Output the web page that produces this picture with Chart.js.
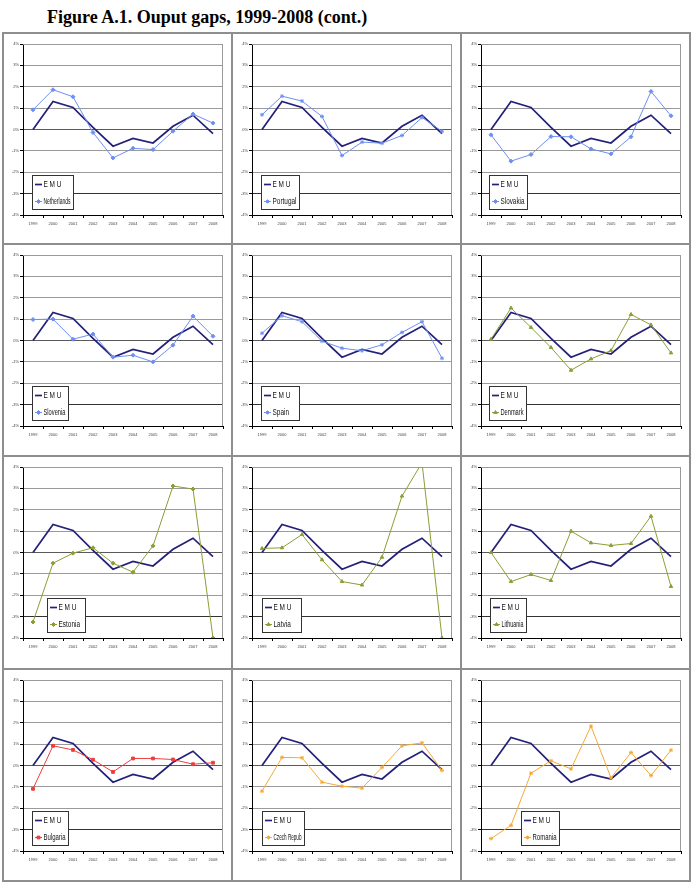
<!DOCTYPE html>
<html>
<head>
<meta charset="utf-8">
<script src="https://cdn.jsdelivr.net/npm/chart.js@4.4.0/dist/chart.umd.min.js"></script>
<style>
html, body { margin: 0; padding: 0; background: #fff; }
#page { position: relative; width: 691px; height: 895px; overflow: hidden; }
#title { position: absolute; left: 47px; top: 7px; line-height: 18px; white-space: nowrap;
         font: bold 18px "Liberation Serif", "Times New Roman", serif; color: #000; }
.cell { position: absolute; }
.line { position: absolute; background: #8e8e8e; z-index: 2; }
</style>
</head>
<body>
<div id="page">
  <div id="title">Figure A.1. Ouput gaps, 1999-2008 (cont.)</div>
</div>
<script>
// ===== Data (output gap, % of potential) =====
const YEARS = ['1999','2000','2001','2002','2003','2004','2005','2006','2007','2008'];
const EMU         = [0.00, 1.31, 1.03, 0.10, -0.78, -0.42, -0.63, 0.15, 0.67, -0.19];
const NETHERLANDS = [0.92, 1.86, 1.53, -0.14, -1.33, -0.88, -0.94, -0.08, 0.72, 0.30];
const PORTUGAL    = [0.69, 1.56, 1.33, 0.61, -1.22, -0.59, -0.64, -0.28, 0.56, -0.08];
const SLOVAKIA    = [-0.25, -1.48, -1.17, -0.33, -0.34, -0.91, -1.14, -0.34, 1.78, 0.64];
const SLOVENIA    = [0.98, 1.00, 0.06, 0.30, -0.78, -0.69, -1.00, -0.22, 1.14, 0.20];
const SPAIN       = [0.34, 1.16, 0.88, -0.03, -0.36, -0.48, -0.20, 0.38, 0.88, -0.83];
const DENMARK     = [0.06, 1.52, 0.61, -0.33, -1.39, -0.86, -0.47, 1.22, 0.73, -0.58];
const ESTONIA     = [-3.25, -0.50, -0.03, 0.22, -0.50, -0.92, 0.31, 3.11, 2.97, -4.00];
const LATVIA      = [0.19, 0.22, 0.84, -0.34, -1.36, -1.52, -0.22, 2.64, 4.20, -4.00];
const LITHUANIA   = [0.00, -1.36, -1.03, -1.31, 1.00, 0.45, 0.33, 0.42, 1.70, -1.59];
const BULGARIA    = [-1.09, 0.92, 0.73, 0.27, -0.30, 0.33, 0.33, 0.28, 0.06, 0.13];
const CZECH       = [-1.20, 0.38, 0.36, -0.78, -0.97, -1.06, -0.09, 0.92, 1.06, -0.23];
const ROMANIA     = [-3.42, -2.80, -0.36, 0.22, -0.16, 1.84, -0.58, 0.61, -0.47, 0.72];

// ===== Styles & layout =====
const EMU_COLOR = '#23207a';
const BLUE = '#6d8ff2', GREEN = '#8c9e34', RED = '#ef3d3d', ORANGE = '#f7a934';
const COLS = [3, 232, 461];
const ROWS = [33, 244, 456, 669];
const CELL_W = 229, CELL_H = 212;
const SANS = '"Liberation Sans", Arial, sans-serif';

// one entry per panel, row by row; lx/lw = legend box offset & width
const PANELS = [
  { name:'Netherlands', data:NETHERLANDS, color:BLUE,   marker:'rectRot',  lx:9,  lw:41 },
  { name:'Portugal',    data:PORTUGAL,    color:BLUE,   marker:'star',     lx:9,  lw:38 },
  { name:'Slovakia',    data:SLOVAKIA,    color:BLUE,   marker:'rectRot',  lx:8,  lw:38 },
  { name:'Slovenia',    data:SLOVENIA,    color:BLUE,   marker:'rectRot',  lx:9,  lw:36 },
  { name:'Spain',       data:SPAIN,       color:BLUE,   marker:'star',     lx:9,  lw:38 },
  { name:'Denmark',     data:DENMARK,     color:GREEN,  marker:'triangle', lx:8,  lw:37 },
  { name:'Estonia',     data:ESTONIA,     color:GREEN,  marker:'rectRot',  lx:24, lw:38 },
  { name:'Latvia',      data:LATVIA,      color:GREEN,  marker:'triangle', lx:10, lw:39 },
  { name:'Lithuania',   data:LITHUANIA,   color:GREEN,  marker:'triangle', lx:9,  lw:36 },
  { name:'Bulgaria',    data:BULGARIA,    color:RED,    marker:'rect',     lx:9,  lw:36 },
  { name:'Czech Repub', data:CZECH,       color:ORANGE, marker:'star',     lx:10, lw:42 },
  { name:'Romania',     data:ROMANIA,     color:ORANGE, marker:'star',     lx:40, lw:38 }
];

// ===== Legend box drawn inside the plot =====
const legendBox = {
  id: 'legendBox',
  afterDraw(chart, args, opts) {
    const ctx = chart.ctx, a = chart.chartArea;
    const h = 34, x = Math.round(a.left + opts.x), y = Math.round(a.bottom - 6 - h), w = opts.w;
    ctx.save();
    ctx.fillStyle = '#fff'; ctx.fillRect(x, y, w, h);
    ctx.strokeStyle = '#333'; ctx.lineWidth = 1;
    ctx.strokeRect(x + 0.5, y + 0.5, w, h);
    const items = chart.data.datasets.slice().reverse();   // EMU first
    items.forEach((ds, i) => {
      const cy = y + 9.5 + i * 17;
      ctx.strokeStyle = ds.borderColor; ctx.fillStyle = ds.borderColor;
      ctx.lineWidth = ds.borderWidth;
      ctx.beginPath(); ctx.moveTo(x + 3, cy); ctx.lineTo(x + 10, cy); ctx.stroke();
      if (ds.pointRadius) {
        ctx.lineWidth = 1;
        Chart.helpers.drawPoint(ctx, { pointStyle: ds.pointStyle, radius: ds.pointRadius, borderWidth: 1, rotation: 0 }, x + 6.5, cy);
      }
      ctx.save();
      ctx.font = '8.5px ' + SANS;
      const tw = ctx.measureText(ds.label).width;
      const sx = Math.min(0.76, (w - 14) / tw);   // narrow look, keep inside box
      ctx.translate(x + 11.5, cy + 0.5);
      ctx.scale(sx, 1);
      ctx.fillStyle = '#111';
      ctx.textBaseline = 'middle';
      ctx.fillText(ds.label, 0, 0);
      ctx.restore();
    });
    ctx.restore();
  }
};

// top & right frame of plot area
const plotFrame = {
  id: 'plotFrame',
  beforeDatasetsDraw(chart) {
    const ctx = chart.ctx, a = chart.chartArea;
    ctx.save();
    ctx.strokeStyle = '#9a9a9a'; ctx.lineWidth = 1;
    ctx.beginPath();
    ctx.moveTo(a.left, a.top + 0.5); ctx.lineTo(a.right - 0.5, a.top + 0.5);
    ctx.lineTo(a.right - 0.5, a.bottom);
    ctx.stroke();
    ctx.restore();
  }
};

function makePanel(p, idx) {
  const L = COLS[idx % 3], T = ROWS[Math.floor(idx / 3)];
  const cell = document.createElement('div');
  cell.className = 'cell';
  cell.style.left = L + 'px'; cell.style.top = T + 'px';
  const cv = document.createElement('canvas');
  cv.width = CELL_W; cv.height = CELL_H;
  cv.style.width = CELL_W + 'px'; cv.style.height = CELL_H + 'px';
  cell.appendChild(cv);
  document.getElementById('page').appendChild(cell);

  return new Chart(cv, {
    type: 'line',
    data: {
      labels: YEARS,
      datasets: [
        { label: p.name, data: p.data, borderColor: p.color, backgroundColor: p.color,
          borderWidth: 1, pointStyle: p.marker, pointRadius: 2, pointBorderWidth: 1,
          tension: 0, clip: 0 },
        { label: 'E M U', data: EMU, borderColor: EMU_COLOR, backgroundColor: EMU_COLOR,
          borderWidth: 1.7, pointRadius: 0, tension: 0, clip: 0 }
      ]
    },
    options: {
      responsive: false, animation: false, devicePixelRatio: 1,
      events: [],
      layout: { padding: { left: 0, right: 9, top: 11, bottom: 18 } },
      plugins: { legend: { display: false }, tooltip: { enabled: false },
                 legendBox: { x: p.lx, w: p.lw } },
      scales: {
        x: {
          offset: true,
          grid: { offset: true, drawOnChartArea: false, drawTicks: true, tickLength: 3, tickColor: '#000' },
          border: { color: '#000', width: 1 },
          ticks: { color: '#444', padding: 3, maxRotation: 0, autoSkip: false,
                   font: { family: SANS, size: 4 } },
          afterFit: s => { s.height = 12; }
        },
        y: {
          min: -4, max: 4,
          grid: { color: c => c.tick.value === -3 ? '#333' : (c.tick.value === 0 ? '#5a5a5a' : '#9a9a9a'),
                  tickLength: 3, tickColor: '#000', lineWidth: 1 },
          border: { color: '#000', width: 1 },
          ticks: { stepSize: 1, color: '#444', padding: 1,
                   font: { family: SANS, size: 4 },
                   callback: v => v + '%' },
          afterFit: s => { s.width = 20; }
        }
      }
    },
    plugins: [plotFrame, legendBox]
  });
}

PANELS.forEach(makePanel);

// ===== Table frame =====
function addLine(x, y, w, h) {
  const d = document.createElement('div');
  d.className = 'line';
  d.style.left = x + 'px'; d.style.top = y + 'px';
  d.style.width = w + 'px'; d.style.height = h + 'px';
  document.getElementById('page').appendChild(d);
}
const TABLE_L = 2, TABLE_R = 690, TABLE_B = 881;
[...ROWS, TABLE_B].forEach(y => addLine(TABLE_L, y - 1, TABLE_R - TABLE_L + 1, 2));
[TABLE_L, COLS[1] - 1, COLS[2] - 1, TABLE_R - 1].forEach(x => addLine(x, ROWS[0] - 1, 2, TABLE_B - ROWS[0] + 2));
</script>
</body>
</html>
